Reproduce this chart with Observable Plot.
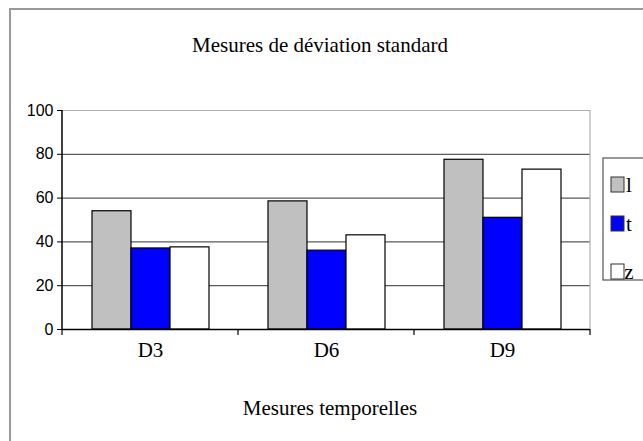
<!DOCTYPE html>
<html><head><meta charset="utf-8">
<script src="https://cdn.jsdelivr.net/npm/d3@7"></script>
<script src="https://cdn.jsdelivr.net/npm/@observablehq/plot@0.6"></script>
<style>
body{margin:0;background:#fff}
#chart{position:relative;width:643px;height:441px;overflow:hidden}
</style>
</head><body><div id="chart"></div>
<script>
const categories = ["D3", "D6", "D9"];
const seriesNames = ["l", "t", "z"];
const valuesL = [54, 58.5, 77.5];
const valuesT = [37, 36, 51];
const valuesZ = [37.5, 43, 73];
const seriesColors = ["#c0c0c0", "#0000ff", "#ffffff"];
const yTicks = [0, 20, 40, 60, 80, 100];
const gridTicks = [20, 40, 60, 80];
const titleText = "Mesures de déviation standard";
const xTitleText = "Mesures temporelles";

const seriesValues = [valuesL, valuesT, valuesZ];
const data = [];
categories.forEach((c, i) => seriesNames.forEach((s, j) => data.push({cat: c, series: s, value: seriesValues[j][i]})));

const W = 643, H = 441, mL = 62, mR = 53, mT = 110, mB = 112;
const serif = "'Liberation Serif', 'Times New Roman', serif";
const sans = "'Liberation Sans', Arial, sans-serif";

const svgEl = Plot.plot({
  width: W, height: H,
  marginLeft: mL, marginRight: mR, marginTop: mT, marginBottom: mB,
  style: {background: "transparent", overflow: "visible"},
  fx: {domain: categories, padding: 0, label: null},
  x: {domain: seriesNames, axis: null, paddingInner: 0, paddingOuter: 0.74},
  y: {domain: [0, 100], axis: null},
  color: {domain: seriesNames, range: seriesColors},
  marks: [
    Plot.ruleY(gridTicks, {stroke: "#5a5a5a", strokeWidth: 1.2}),
    Plot.ruleY([100], {stroke: "#b0b0b0", strokeWidth: 1.2}),
    Plot.barY(data, {fx: "cat", x: "series", y: "value", fill: "series", stroke: "#000", strokeWidth: 1.2, insetLeft: 0, insetRight: 0}),
    Plot.axisY(yTicks, {anchor: "left", tickSize: 5, tickPadding: 4, fontFamily: sans, fontSize: 16, label: null, stroke: "#000"}),
    Plot.axisFx({anchor: "bottom", tickSize: 0, tickPadding: 13, fontFamily: serif, fontSize: 21, label: null}),
    Plot.ruleY([0], {stroke: "#000", strokeWidth: 1.5})
  ]
});
document.getElementById("chart").appendChild(svgEl);

const svg = d3.select(svgEl);
const ys = svgEl.scale("y");
const fxs = svgEl.scale("fx");
const col = svgEl.scale("color");
const y0 = ys.apply(0), y100 = ys.apply(100);

// outer chart border
svg.insert("rect", ":first-child")
  .attr("x", 10).attr("y", 9).attr("width", 700).attr("height", 500)
  .attr("fill", "none").attr("stroke", "#9a9a9a").attr("stroke-width", 2);

// plot area right border
const xEnd = fxs.apply(categories[categories.length - 1]) + fxs.bandwidth;
svg.append("line").attr("x1", xEnd).attr("x2", xEnd).attr("y1", y100).attr("y2", y0)
  .attr("stroke", "#b0b0b0").attr("stroke-width", 1.2);

// y axis line
const xStart = fxs.apply(categories[0]);
svg.append("line").attr("x1", xStart).attr("x2", xStart).attr("y1", y100).attr("y2", y0)
  .attr("stroke", "#000").attr("stroke-width", 1.5);

// x boundary ticks
const bounds = categories.map(c => fxs.apply(c)).concat([xEnd]);
svg.append("g").selectAll("line").data(bounds).join("line")
  .attr("x1", d => d).attr("x2", d => d).attr("y1", y0).attr("y2", y0 + 6)
  .attr("stroke", "#000").attr("stroke-width", 1.2);

// title
svg.append("text").attr("x", 320).attr("y", 52).attr("text-anchor", "middle")
  .attr("font-family", serif).attr("font-size", 21).attr("fill", "#000").text(titleText);

// x title
svg.append("text").attr("x", 330).attr("y", 415).attr("text-anchor", "middle")
  .attr("font-family", serif).attr("font-size", 21).attr("fill", "#000").text(xTitleText);

// legend
const lg = svg.append("g");
lg.append("rect").attr("x", 603).attr("y", 158).attr("width", 80).attr("height", 122)
  .attr("fill", "#fff").attr("stroke", "#555").attr("stroke-width", 1.2);
const legY = [177, 216, 264];
seriesNames.forEach((s, i) => {
  lg.append("rect").attr("x", 611).attr("y", legY[i]).attr("width", 13).attr("height", 15)
    .attr("fill", col.apply(s)).attr("stroke", "#333").attr("stroke-width", 1);
  lg.append("text").attr("x", 629).attr("y", legY[i] + 15)
    .attr("font-family", serif).attr("font-size", 21).attr("fill", "#000").text(s);
});
</script>
</body></html>
